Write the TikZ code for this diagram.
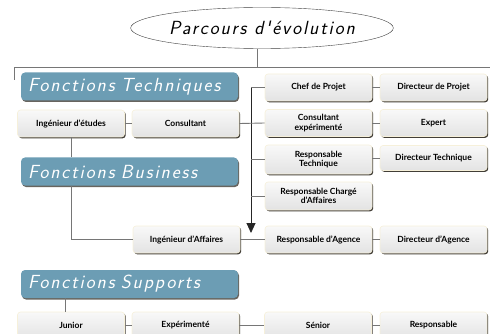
\documentclass[tikz,border=0pt]{standalone}
\usepackage{fontspec}
\setsansfont{Lato}
\newfontfamily\handfont{Latin Modern Sans}[LetterSpace=10]
\usetikzlibrary{shapes.geometric,shadows,arrows.meta,positioning}

\definecolor{fonction}{RGB}{108,157,180}
\definecolor{ombre}{RGB}{66,62,55}
\definecolor{liseret}{RGB}{246,240,218}
\definecolor{trait}{RGB}{118,118,118}

\tikzset{
  poste/.style={rounded corners=3pt, draw=liseret, line width=0.6pt,
    top color=gray!5, bottom color=gray!22, minimum width=107pt,
    minimum height=27pt, inner sep=1pt, align=center,
    font=\sffamily\bfseries\fontsize{8.5}{9.5}\selectfont,
    drop shadow={shadow xshift=1.2pt, shadow yshift=-1.3pt, fill=ombre, opacity=1}},
  fonction/.style={rounded corners=4pt, fill=fonction, text=white,
    minimum width=217pt, minimum height=28pt, text width=203pt, inner xsep=7pt,
    align=left, font=\handfont\itshape\fontsize{19}{19}\selectfont,
    drop shadow={shadow xshift=1pt, shadow yshift=-1.5pt, fill=ombre!80, opacity=1}},
  lien/.style={trait, line width=0.9pt},
}

\begin{document}
\begin{tikzpicture}[x=1pt, y=-1pt]
  \useasboundingbox (0,0) rectangle (490,334);

  % titre
  \node[ellipse, draw=black!75, thin, minimum width=250pt, minimum height=41pt,
    inner sep=0pt, font=\handfont\itshape\fontsize{19}{19}\selectfont] (titre) at (262,28) {Parcours d'évolution};

  % rail du haut
  \coordinate (gauche) at (14,67);
  \coordinate (droite) at (490,67);
  \coordinate (gaucheBas) at (14,80);
  \draw[lien] ([xshift=-5pt]titre.south) -- ([xshift=-5pt]titre.south |- gauche);
  \draw[lien] (gaucheBas) -- (gauche) -- (droite);

  % familles de fonctions
  \node[fonction] (techniques) at (129.5,86.5) {Fonctions Techniques};
  \node[fonction] (business) at (129.5,171.5) {Fonctions Business};
  \node[fonction] (supports) at (129.5,284) {Fonctions Supports};

  % postes techniques
  \node[poste] (ingEtudes) at (71,123.5) {Ingénieur d'études};
  \node[poste] (consultant) at (185.5,123.5) {Consultant};

  % evolutions
  \node[poste] (chef) at (318.5,87.5) {Chef de Projet};
  \node[poste] (dirProjet) at (433.5,87.5) {Directeur de Projet};
  \node[poste] (consExp) at (318.5,123) {Consultant\\expérimenté};
  \node[poste] (expert) at (433.5,123) {Expert};
  \node[poste, minimum height=29pt] (respTech) at (318.5,159.5) {Responsable\\Technique};
  \node[poste, minimum height=25pt] (dirTech) at (433.5,158) {Directeur Technique};
  \node[poste, minimum height=28pt] (respCharge) at (318.5,196) {Responsable Chargé\\d'Affaires};

  % postes business
  \node[poste] (ingAffaires) at (186.5,239.5) {Ingénieur d'Affaires};
  \node[poste] (respAgence) at (318.5,239.5) {Responsable d'Agence};
  \node[poste] (dirAgence) at (433.5,239.5) {Directeur d'Agence};

  % postes supports
  \node[poste] (junior) at (71,325.5) {Junior};
  \node[poste] (experimente) at (185.5,325.5) {Expérimenté};
  \node[poste] (senior) at (318,325.5) {Sénior};
  \node[poste] (responsable) at (433.5,325.5) {Responsable};

  % rail vertical vers l'agence
  \coordinate (railHaut) at (251,87.5);
  \coordinate (railBas) at (251,233);
  \draw[black!85, line width=0.9pt, -{Triangle[length=10pt, width=9pt]}] (railHaut) -- (railBas);
  \draw[lien] (railHaut) -- (chef.west);
  \draw[lien] (consultant.east) -- (consExp.west);
  \draw[lien] (respTech.west -| railHaut) -- (respTech.west);
  \draw[lien] (respCharge.west -| railHaut) -- (respCharge.west);

  % liens horizontaux
  \draw[lien] (ingEtudes.east) -- (consultant.west);
  \draw[lien] (chef.east) -- (dirProjet.west);
  \draw[lien] (consExp.east) -- (expert.west);
  \draw[lien] (dirTech.west -| respTech.east) -- (dirTech.west);
  \draw[lien] (ingAffaires.east) -- (respAgence.west);
  \draw[lien] (respAgence.east) -- (dirAgence.west);
  \draw[lien] (junior.east) -- (experimente.west);
  \draw[lien] (experimente.east) -- (senior.west);
  \draw[lien] (senior.east) -- (responsable.west);

  % liens verticaux
  \draw[lien] (ingEtudes.south) -- (ingEtudes.south |- business.north);
  \draw[lien] (ingEtudes.south |- business.south) |- (ingAffaires.west);
  \draw[lien] ([xshift=-6pt]junior.north |- supports.south) -- ([xshift=-6pt]junior.north);
\end{tikzpicture}
\end{document}
